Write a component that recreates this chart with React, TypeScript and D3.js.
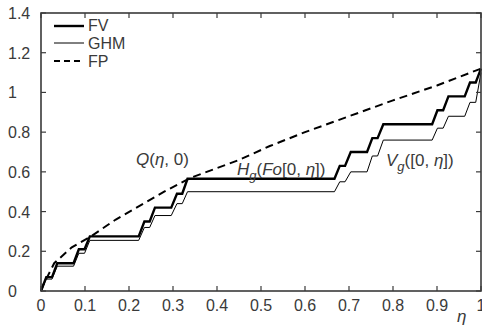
import * as d3 from 'd3'

// flat pieces of the staircases (eta)
const stepStart = [0.012, 0.037, 0.086, 0.111, 0.235, 0.259, 0.309, 0.333, 0.679, 0.704, 0.753, 0.778, 0.901, 0.926, 0.975]
const stepEnd = [0.025, 0.074, 0.099, 0.222, 0.247, 0.296, 0.321, 0.667, 0.691, 0.741, 0.765, 0.889, 0.914, 0.963, 0.988]
const fvLevel = [0.07, 0.14, 0.21, 0.275, 0.35, 0.42, 0.49, 0.565, 0.63, 0.70, 0.77, 0.84, 0.91, 0.98, 1.05]
const ghmLevel = [0.06, 0.125, 0.19, 0.255, 0.32, 0.38, 0.44, 0.50, 0.55, 0.60, 0.68, 0.76, 0.82, 0.88, 0.95]
const fvEnd = 1.12
const ghmEnd = 1.1

const fpEta = [0, 0.005, 0.03, 0.07, 0.11, 0.17, 0.225, 0.28, 0.34, 0.45, 0.52, 0.6, 0.7, 0.8, 0.9, 1]
const fpVal = [0, 0.03, 0.14, 0.22, 0.27, 0.36, 0.43, 0.5, 0.57, 0.66, 0.73, 0.8, 0.88, 0.96, 1.035, 1.12]

const xTicks = [0, 0.1, 0.2, 0.3, 0.4, 0.5, 0.6, 0.7, 0.8, 0.9, 1]
const yTicks = [0, 0.2, 0.4, 0.6, 0.8, 1, 1.2, 1.4]

const W = 482, H = 327
const mL = 41, mR = 1, mT = 13, mB = 36
const font = 'Liberation Sans, Arial, sans-serif'
const ink = '#3a3a3a'

function stairs(levels: number[], end: number): [number, number][] {
  const pts: [number, number][] = [[0, 0]]
  levels.forEach((v, i) => {
    pts.push([stepStart[i], v])
    pts.push([stepEnd[i], v])
  })
  pts.push([1, end])
  return pts
}

export default function App() {
  const x = d3.scaleLinear().domain([0, 1]).range([mL, W - mR])
  const y = d3.scaleLinear().domain([0, 1.4]).range([H - mB, mT])
  const line = d3.line<[number, number]>().x(d => x(d[0])).y(d => y(d[1]))

  const fv = line(stairs(fvLevel, fvEnd)) ?? ''
  const ghm = line(stairs(ghmLevel, ghmEnd)) ?? ''
  const fp = line(fpEta.map((e, i) => [e, fpVal[i]] as [number, number])) ?? ''

  const x0 = x(0), x1 = x(1), y0 = y(0), y1 = y(1.4)

  return (
    <svg width={W} height={H} style={{ position: 'absolute', left: 0, top: 0, background: '#fff' }}
      fontFamily={font}>
      <path d={ghm} fill="none" stroke="#000" strokeWidth={1} />
      <path d={fv} fill="none" stroke="#000" strokeWidth={2.4} />
      <path d={fp} fill="none" stroke="#000" strokeWidth={2} strokeDasharray="8,5" />

      <rect x={x0} y={y1} width={x1 - x0} height={y0 - y1} fill="none" stroke={ink} strokeWidth={1.6} />
      {xTicks.map(t => (
        <g key={'x' + t}>
          <line x1={x(t)} x2={x(t)} y1={y0} y2={y0 - 5} stroke={ink} strokeWidth={1.2} />
          <line x1={x(t)} x2={x(t)} y1={y1} y2={y1 + 5} stroke={ink} strokeWidth={1.2} />
          <text x={x(t)} y={311} textAnchor="middle" fontSize={16} fill={ink}>{d3.format('')(t)}</text>
        </g>
      ))}
      {yTicks.map(t => (
        <g key={'y' + t}>
          <line x1={x0} x2={x0 + 5} y1={y(t)} y2={y(t)} stroke={ink} strokeWidth={1.2} />
          <line x1={x1} x2={x1 - 5} y1={y(t)} y2={y(t)} stroke={ink} strokeWidth={1.2} />
          <text x={8} y={y(t) + 6} fontSize={16} fill={ink}>{d3.format('')(t)}</text>
        </g>
      ))}
      <text x={457} y={322} fontSize={17} fontStyle="italic" fill={ink}>η</text>

      {/* legend */}
      <line x1={54} x2={84} y1={26} y2={26} stroke="#000" strokeWidth={2.4} />
      <line x1={54} x2={84} y1={43} y2={43} stroke="#000" strokeWidth={1} />
      <line x1={54} x2={84} y1={61} y2={61} stroke="#000" strokeWidth={2} strokeDasharray="6,4" />
      <text x={88} y={31} fontSize={16} fill={ink}>FV</text>
      <text x={88} y={49} fontSize={16} fill={ink}>GHM</text>
      <text x={88} y={67} fontSize={16} fill={ink}>FP</text>

      {/* annotations */}
      <text x={136} y={165} fontSize={17} fill={ink}>
        <tspan fontStyle="italic">Q</tspan>(<tspan fontStyle="italic">η</tspan>, 0)
      </text>
      <text x={237} y={175} fontSize={17} fill={ink}>
        <tspan fontStyle="italic">H</tspan>
        <tspan fontStyle="italic" fontSize={13} dy={5}>g</tspan>
        <tspan dy={-5}>(</tspan><tspan fontStyle="italic">Fo</tspan>[0, <tspan fontStyle="italic">η</tspan>])
      </text>
      <text x={386} y={166} fontSize={17} fill={ink}>
        <tspan fontStyle="italic">V</tspan>
        <tspan fontStyle="italic" fontSize={13} dy={5}>g</tspan>
        <tspan dy={-5}>([0, </tspan><tspan fontStyle="italic">η</tspan>])
      </text>
    </svg>
  )
}
